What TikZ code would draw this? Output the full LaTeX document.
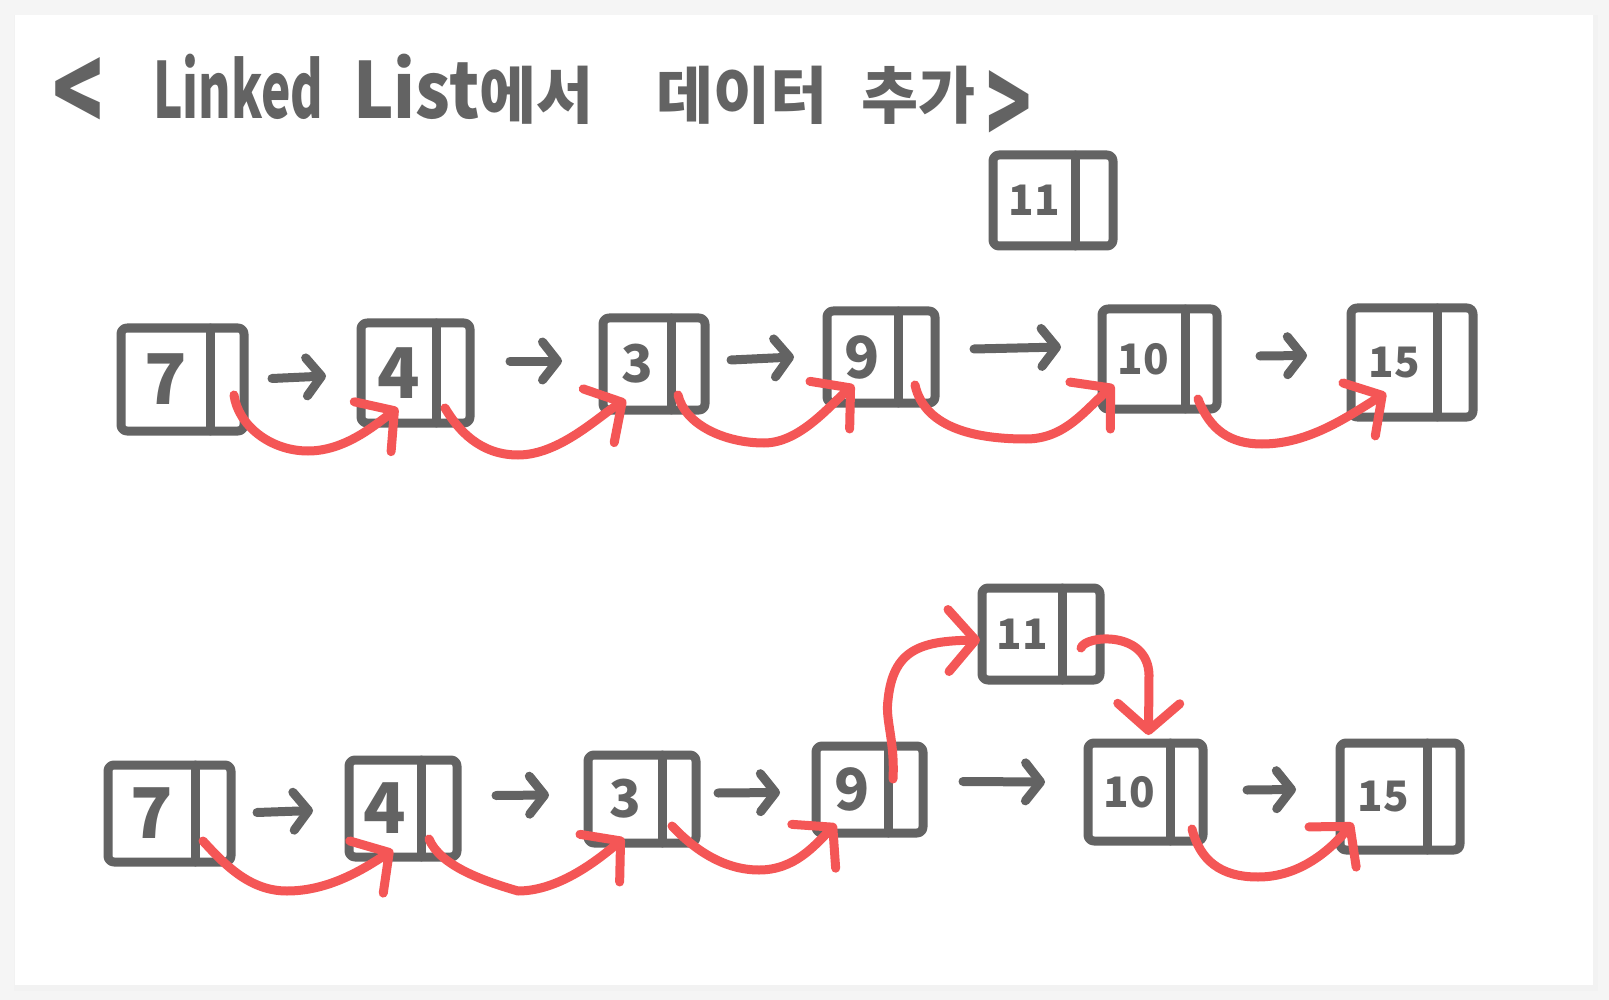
\documentclass[tikz,border=0pt]{standalone}
\usepackage{fontspec}
\newfontfamily\kr{Noto Sans CJK KR}
\usetikzlibrary{arrows.meta,calc}
\definecolor{ink}{HTML}{636363}
\definecolor{pen}{HTML}{F45656}
\definecolor{pagebg}{HTML}{F5F5F5}
\newcommand\mybox[7]{%
  \node[boxst, minimum width={(#4-#2)*1pt}, minimum height={(#5-#3)*1pt}] (#1) at ({(#2+#4)/2},{(#3+#5)/2}) {};
  \draw[divst] (#6,#3) -- (#6,#5);
  \node[numst] (#1-n) at ({(#2+#6)/2},{(#3+#5)/2}) {#7};
}
\newcommand\szA{\fontsize{70}{70}\selectfont}
\newcommand\szB{\fontsize{52}{52}\selectfont}
\newcommand\szN{\fontsize{58}{58}\selectfont}
\newcommand\szC{\fontsize{42}{42}\selectfont}
\begin{document}
\begin{tikzpicture}[x=1pt,y=-1pt, line cap=round, line join=round,
  boxst/.style={draw=ink, line width=9pt, rounded corners=6pt, inner sep=0pt, outer sep=0pt},
  divst/.style={draw=ink, line width=9pt},
  numst/.style={text=ink, font=\kr\bfseries, inner sep=0pt},
  garr/.style={draw=ink, line width=9pt, -{Straight Barb[length=15pt,width=38pt,round]}},
  rarr/.style={draw=pen, line width=9pt, -{Straight Barb[length=27pt,width=62pt,round]}},
]
% background and card
\fill[pagebg] (0,0) rectangle (1609,1000);
\fill[black!8] (16,17) rectangle (1596,989);
\fill[black!5] (14,15) rectangle (1598,991);
\fill[white] (15,15) rectangle (1593,985);

% title
\node[anchor=base west, text=ink, font=\kr\bfseries\fontsize{62}{62}\selectfont, inner sep=0pt] (title) at (52,119)
  {\makebox[101pt][l]{\raisebox{-15pt}{\scalebox{1.35}[1.9]{<}}}\makebox[200pt][l]{\scalebox{0.8}[1.25]{Linked}}\makebox[303pt][l]{\scalebox{1.1}[1.25]{List}에서}\makebox[205pt][l]{데이터}\makebox[125pt][l]{추가}\raisebox{-28pt}{\scalebox{1.2}[1.9]{>}}};

% top row
\mybox{t7}{121}{328}{244}{431}{210}{\szA 7}
\mybox{t4}{361}{323}{470}{423}{436}{\szA 4}
\mybox{t3}{603}{318}{705}{410}{671}{\szB 3}
\mybox{t9}{827}{311}{935}{403}{898}{\szN 9}
\mybox{t10}{1102}{309}{1217}{409}{1185}{\szC 10}
\mybox{t15}{1351}{308}{1473}{417}{1437}{\szC 15}
\mybox{t11}{993}{155}{1113}{246}{1075}{\szC 11}

\draw[garr] ($(t7.east)+(28,-1)$) -- ($(t4.west)+(-35,3)$);
\draw[garr] ($(t4.east)+(40,-12)$) -- ($(t3.west)+(-41,-3)$);
\draw[garr] ($(t3.east)+(26,-4)$) -- ($(t9.west)+(-33,0)$);
\draw[garr] ($(t9.east)+(39,-8)$) -- ($(t10.west)+(-41,-12)$);
\draw[garr] ($(t10.east)+(43,-3)$) -- ($(t15.west)+(-44,-7)$);

\draw[rarr] ($(t7.south east)+(-10,-36)$) .. controls (238,425) and (270,451) .. (308,451)
  .. controls (345,451) and (375,425) .. ($(t4.south west)+(37,-15)$);
\draw[rarr] ($(t4.south east)+(-25,-15)$) .. controls (458,430) and (480,455) .. (518,455)
  .. controls (560,455) and (600,415) .. ($(t3.south west)+(23,-10)$);
\draw[rarr] ($(t3.south east)+(-27,-15)$) .. controls (685,425) and (725,443) .. (764,443)
  .. controls (800,443) and (830,405) .. ($(t9.south west)+(27,-18)$);
\draw[rarr] ($(t9.south east)+(-20,-18)$) .. controls (925,430) and (980,439) .. (1026,439)
  .. controls (1065,439) and (1085,410) .. ($(t10.south west)+(12,-24)$);
\draw[rarr] ($(t10.south east)+(-19,-10)$) .. controls (1210,430) and (1230,444) .. (1262,444)
  .. controls (1310,444) and (1350,415) .. ($(t15.south west)+(35,-24)$);

% bottom row
\mybox{b7}{108}{765}{231}{862}{195}{\szA 7}
\mybox{b4}{349}{760}{457}{857}{421}{\szA 4}
\mybox{b3}{588}{755}{696}{843}{662}{\szB 3}
\mybox{b9}{816}{746}{923}{833}{888}{\szN 9}
\mybox{b10}{1088}{743}{1203}{841}{1170}{\szC 10}
\mybox{b15}{1340}{743}{1460}{850}{1427}{\szC 15}
\mybox{b11}{982}{588}{1100}{680}{1062}{\szC 11}

\draw[garr] ($(b7.east)+(26,-1)$) -- ($(b4.west)+(-36,2)$);
\draw[garr] ($(b4.east)+(39,-13)$) -- ($(b3.west)+(-39,-4)$);
\draw[garr] ($(b3.east)+(22,-6)$) -- ($(b9.west)+(-36,3)$);
\draw[garr] ($(b9.east)+(40,-8)$) -- ($(b10.west)+(-43,-10)$);
\draw[garr] ($(b10.east)+(44,-2)$) -- ($(b15.west)+(-44,-7)$);

\draw[rarr] ($(b7.south east)+(-28,-21)$) .. controls (225,865) and (250,891) .. (287,891)
  .. controls (330,891) and (365,868) .. ($(b4.south west)+(44,-7)$);
\draw[rarr] ($(b4.south east)+(-28,-18)$) .. controls (440,865) and (480,880) .. (518,891)
  .. controls (560,891) and (600,858) .. ($(b3.south west)+(36,-5)$);
\draw[rarr] ($(b3.south east)+(-24,-17)$) .. controls (690,845) and (720,870) .. (759,870)
  .. controls (795,870) and (815,845) .. ($(b9.south west)+(20,-9)$);
\draw[rarr] ($(b9.north east)+(-30,33)$) .. controls (895,740) and (885,720) .. (888,700)
  .. controls (893,650) and (920,641) .. ($(b11.west)+(-2,6)$);
\draw[rarr] ($(b11.east)+(-19,14)$) .. controls (1085,635) and (1148,630) .. (1149,675)
  -- ($(b10.north)+(3,-8)$);
\draw[rarr] ($(b10.south east)+(-11,-12)$) .. controls (1200,860) and (1220,877) .. (1258,877)
  .. controls (1300,877) and (1330,850) .. ($(b15.south west)+(13,-27)$);
\end{tikzpicture}
\end{document}
